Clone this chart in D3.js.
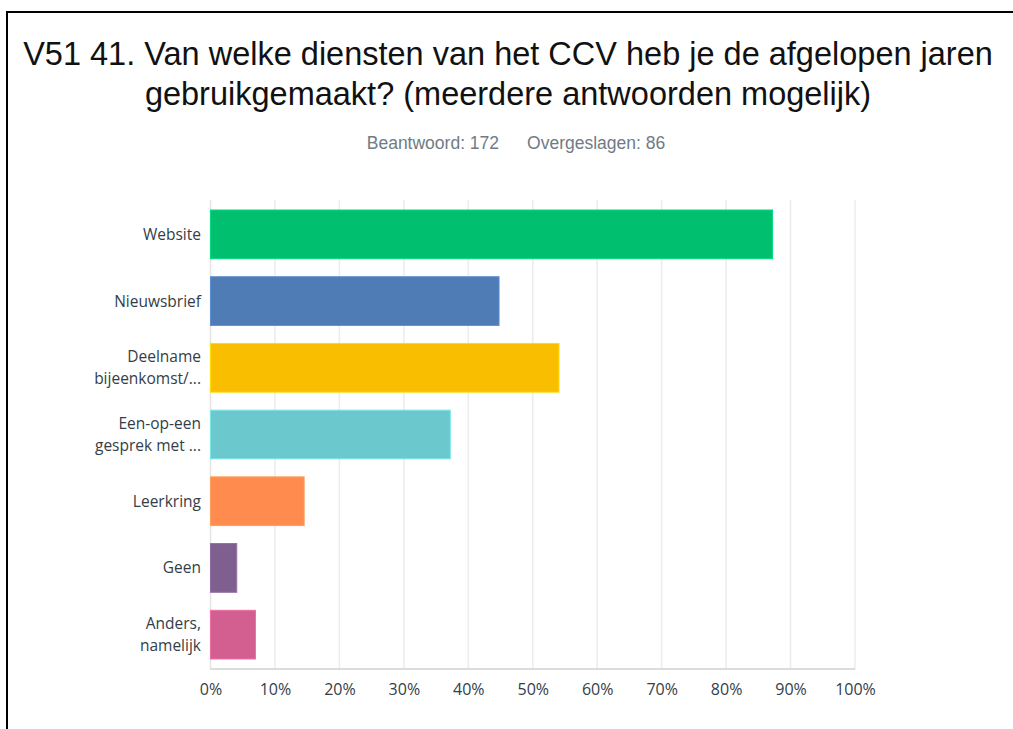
<!DOCTYPE html>
<html>
<head>
<meta charset="utf-8">
<script src="https://cdn.jsdelivr.net/npm/d3@7/dist/d3.min.js"></script>
<style>
  html, body { margin: 0; padding: 0; background: #fff; }
  svg { display: block; }
</style>
</head>
<body>
<svg id="chart" width="1013" height="729"></svg>
<script>
// Survey question: services used, share of respondents (n = 172)
const categories = [
  ["Website"],
  ["Nieuwsbrief"],
  ["Deelname", "bijeenkomst/..."],
  ["Een-op-een", "gesprek met ..."],
  ["Leerkring"],
  ["Geen"],
  ["Anders,", "namelijk"]
];
const values = [87.21, 44.77, 54.07, 37.21, 14.53, 4.07, 6.98];
const barColors = ["#00bf6f", "#507cb6", "#f9be00", "#6bc8cd", "#ff8b4f", "#7f5f90", "#d25f90"];
const tickValues = [0, 10, 20, 30, 40, 50, 60, 70, 80, 90, 100];
const titleLines = [
  "V51 41. Van welke diensten van het CCV heb je de afgelopen jaren",
  "gebruikgemaakt? (meerdere antwoorden mogelijk)"
];
const answered = "Beantwoord: 172";
const skipped = "Overgeslagen: 86";

const svg = d3.select("#chart");

// outer frame
svg.append("rect")
  .attr("x", 7).attr("y", 12)
  .attr("width", 1100).attr("height", 800)
  .attr("fill", "none").attr("stroke", "#000").attr("stroke-width", 2);

// title
svg.append("text")
  .attr("x", 508).attr("text-anchor", "middle")
  .attr("font-family", "'Liberation Sans', Arial, sans-serif")
  .attr("font-size", 32.5).attr("fill", "#111")
  .selectAll("tspan").data(titleLines).join("tspan")
  .attr("x", 508).attr("y", (d, i) => 65 + i * 40)
  .text(d => d);

// answered / skipped
const sub = svg.append("text")
  .attr("y", 149).attr("x", 516).attr("text-anchor", "middle")
  .attr("font-family", "'Liberation Sans', Arial, sans-serif")
  .attr("font-size", 17.5).attr("fill", "#6f7b85");
sub.append("tspan").text(answered);
sub.append("tspan").attr("dx", 28).text(skipped);

const margin = { left: 210.5, right: 855, top: 200, bottom: 669 };

const x = d3.scaleLinear().domain([0, 100]).range([margin.left, margin.right]);
const y = d3.scaleBand()
  .domain(d3.range(categories.length))
  .range([margin.top, margin.bottom])
  .paddingInner(0.27).paddingOuter(0.15);

// vertical grid lines
svg.append("g")
  .selectAll("line").data(tickValues.slice(1)).join("line")
  .attr("x1", d => x(d)).attr("x2", d => x(d))
  .attr("y1", margin.top).attr("y2", margin.bottom)
  .attr("stroke", "#ececec").attr("stroke-width", 1.5);

// left axis line
svg.append("line")
  .attr("x1", x(0)).attr("x2", x(0))
  .attr("y1", margin.top).attr("y2", margin.bottom)
  .attr("stroke", "#e4e4e4").attr("stroke-width", 1.5);

// bars
svg.append("g")
  .selectAll("rect").data(values).join("rect")
  .attr("x", x(0))
  .attr("y", (d, i) => y(i))
  .attr("width", d => x(d) - x(0))
  .attr("height", y.bandwidth())
  .attr("fill", (d, i) => barColors[i])
  .attr("stroke", (d, i) => d3.color(barColors[i]).brighter(0.4))
  .attr("stroke-width", 1);

// baseline
svg.append("line")
  .attr("x1", x(0)).attr("x2", x(100))
  .attr("y1", margin.bottom).attr("y2", margin.bottom)
  .attr("stroke", "#d0d0d0").attr("stroke-width", 1.5);

// x axis labels
const xAxis = d3.axisBottom(x).tickValues(tickValues).tickFormat(d => d + "%").tickSize(0).tickPadding(15);
const gx = svg.append("g").attr("transform", `translate(0,${margin.bottom})`).call(xAxis);
gx.select(".domain").remove();
gx.selectAll("text")
  .attr("font-family", "'Open Sans', 'Noto Sans', sans-serif")
  .attr("font-size", 16).attr("fill", "#333e48");

// category labels
const labels = svg.append("g")
  .selectAll("text").data(categories).join("text")
  .attr("text-anchor", "end")
  .attr("font-family", "'Open Sans', 'Noto Sans', sans-serif")
  .attr("font-size", 15.5).attr("fill", "#333e48");
labels.each(function (lines, i) {
  const cy = y(i) + y.bandwidth() / 2;
  const t = d3.select(this);
  const n = lines.length;
  lines.forEach((line, j) => {
    t.append("tspan")
      .attr("x", 201)
      .attr("y", cy + 5.5 + (j - (n - 1) / 2) * 22)
      .text(line);
  });
});
</script>
</body>
</html>
